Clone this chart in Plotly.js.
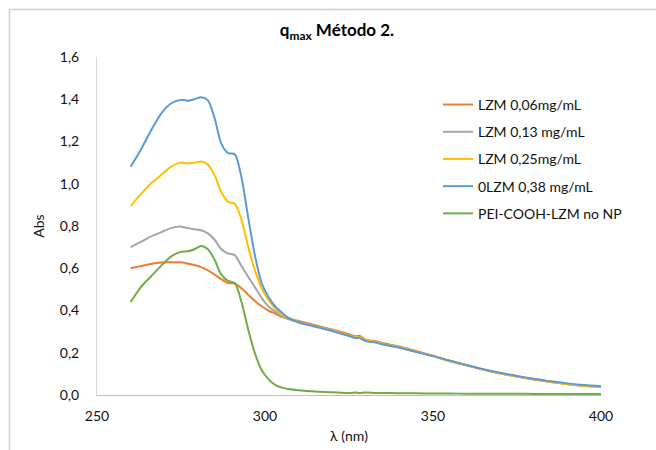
<!DOCTYPE html>
<html>
<head>
<meta charset="utf-8">
<script src="https://cdn.plot.ly/plotly-3.0.1.min.js"></script>
<style>html,body{margin:0;padding:0;background:#fff;}#chart{width:656px;height:450px;}</style>
</head>
<body>
<div id="chart"></div>
<script>
const wavelength = [260,263,266,269,272,275,277,279,281,283,285,287,289,291,293,295,297,299,301,303,305,307,310,315,320,325,327,328,330,333,335,340,345,350,355,360,365,370,375,380,385,390,395,400];

const lzm006 = [0.600,0.610,0.620,0.627,0.628,0.628,0.622,0.615,0.605,0.590,0.570,0.548,0.530,0.527,0.505,0.475,0.445,0.420,0.400,0.385,0.370,0.360,0.350,0.330,0.310,0.288,0.278,0.280,0.262,0.254,0.246,0.230,0.208,0.186,0.162,0.141,0.120,0.102,0.087,0.073,0.061,0.051,0.043,0.037];
const lzm013 = [0.700,0.725,0.750,0.770,0.790,0.797,0.790,0.785,0.780,0.765,0.735,0.690,0.670,0.662,0.610,0.560,0.510,0.460,0.420,0.395,0.375,0.360,0.345,0.326,0.306,0.283,0.273,0.275,0.258,0.250,0.241,0.225,0.205,0.184,0.161,0.141,0.121,0.103,0.088,0.075,0.063,0.053,0.045,0.039];
const lzm025 = [0.895,0.950,1.000,1.040,1.080,1.100,1.097,1.100,1.105,1.090,1.040,0.960,0.915,0.905,0.830,0.700,0.590,0.505,0.450,0.410,0.380,0.365,0.345,0.325,0.305,0.282,0.273,0.275,0.259,0.250,0.242,0.226,0.205,0.184,0.160,0.140,0.120,0.102,0.087,0.074,0.062,0.052,0.044,0.038];
const lzm038 = [1.080,1.160,1.250,1.330,1.380,1.397,1.393,1.400,1.410,1.395,1.310,1.190,1.145,1.140,1.030,0.840,0.660,0.530,0.465,0.420,0.390,0.365,0.343,0.323,0.303,0.279,0.269,0.271,0.255,0.248,0.239,0.224,0.204,0.184,0.162,0.142,0.122,0.105,0.090,0.077,0.065,0.055,0.047,0.042];
const peiNoNP = [0.440,0.510,0.560,0.610,0.655,0.678,0.680,0.690,0.705,0.690,0.640,0.570,0.540,0.530,0.440,0.310,0.197,0.118,0.075,0.048,0.035,0.028,0.022,0.016,0.013,0.009,0.012,0.010,0.012,0.009,0.010,0.008,0.008,0.007,0.007,0.006,0.006,0.006,0.006,0.005,0.005,0.005,0.005,0.005];

const names = ['LZM 0,06mg/mL','LZM 0,13 mg/mL','LZM 0,25mg/mL','0LZM 0,38 mg/mL','PEI-COOH-LZM no NP'];
const colors = ['#ED7D31','#A5A5A5','#FFC000','#5B9BD5','#70AD47'];
const series = [lzm006, lzm013, lzm025, lzm038, peiNoNP];

const traces = series.map((s,i)=>({
  x: wavelength, y: s, name: names[i], type:'scatter', mode:'lines',
  legendgroup:'g'+i,
  line:{color:colors[i], width:2, shape:'spline', smoothing:0.8}
}));

const font = "Lato, 'Open Sans', sans-serif";
const L = 97, R = 601, T = 57, B = 395.5;
const W = R-L, H = B-T;
const px = v => (v-L)/W;
const py = v => (B-v)/H;

const layout = {
  width:656, height:450,
  margin:{l:L, r:656-R, t:T, b:450-B},
  paper_bgcolor:'#fff', plot_bgcolor:'#fff',
  separators:',.',
  font:{family:font, size:14, color:'#222'},
  title:{text:'<b>q<sub>max</sub> Método 2.</b>', font:{family:font, size:17, color:'#000'}, xref:'paper', x:px(337), xanchor:'center', yref:'container', y:1-30/450, yanchor:'middle'},
  xaxis:{range:[250,400], tick0:250, dtick:50, showgrid:false, zeroline:false, showline:true, linecolor:'#bfbfbf', linewidth:1,
    ticks:'outside', ticklen:8, tickcolor:'rgba(0,0,0,0)', tickfont:{family:font, size:14, color:'#111'},
    title:{text:'λ (nm)', font:{family:font, size:14, color:'#111'}, standoff:8}},
  yaxis:{range:[0,1.6], dtick:0.2, tickformat:'.1f', showgrid:false, zeroline:false, showline:true, linecolor:'#d9d9d9', linewidth:1,
    ticks:'outside', ticklen:14, tickcolor:'rgba(0,0,0,0)', tickfont:{family:font, size:14, color:'#111'},
    title:{text:'Abs', font:{family:font, size:14, color:'#111'}, standoff:11}},
  legend:{x:px(438), xanchor:'left', y:py(89), yanchor:'top', bgcolor:'rgba(0,0,0,0)', font:{family:font, size:14, color:'#111'}, tracegroupgap:6, itemwidth:30},
  showlegend:true,
  shapes:[
    {type:'line', xref:'paper', yref:'paper', x0:px(9), x1:px(660), y0:py(9.5), y1:py(9.5), line:{color:'#cfcfcf', width:1.5}},
    {type:'line', xref:'paper', yref:'paper', x0:px(9.5), x1:px(9.5), y0:py(9), y1:py(455), line:{color:'#cfcfcf', width:1.5}}
  ]
};

Plotly.newPlot('chart', traces, layout, {displayModeBar:false, staticPlot:true});
</script>
</body>
</html>
